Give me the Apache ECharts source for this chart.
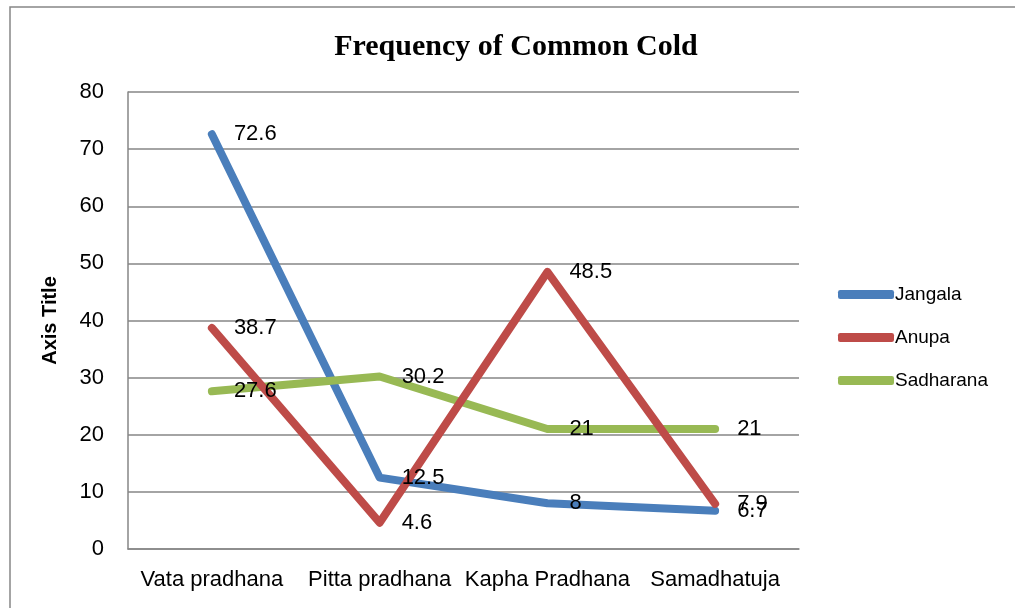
<!DOCTYPE html>
<html>
<head>
<meta charset="utf-8">
<script src="https://cdn.jsdelivr.net/npm/echarts@6/dist/echarts.min.js"></script>
<style>
  html, body { margin: 0; padding: 0; background: #fff; }
  #chart { width: 1015px; height: 608px; }
</style>
</head>
<body>
<div id="chart"></div>
<script>
// Constitution types (Prakriti) on the x axis
const categories = ['Vata pradhana', 'Pitta pradhana', 'Kapha Pradhana', 'Samadhatuja'];

// Frequency values per desha group
const jangala = [72.6, 12.5, 8, 6.7];
const anupa = [38.7, 4.6, 48.5, 7.9];
const sadharana = [27.6, 30.2, 21, 21];

const seriesNames = ['Jangala', 'Anupa', 'Sadharana'];
const seriesColors = ['#4A7EBB', '#BE4B48', '#98B954'];

const labelFont = 'Liberation Sans, Arial, sans-serif';

function lineSeries(name, data, color) {
  return {
    name: name,
    type: 'line',
    data: data,
    z: 2,
    symbol: 'circle',
    symbolSize: 0,
    showSymbol: true,
    smooth: false,
    lineStyle: { color: color, width: 8, cap: 'round', join: 'round' },
    itemStyle: { color: color },
    label: {
      show: true,
      position: 'right',
      distance: 22,
      color: '#000',
      fontSize: 22,
      fontFamily: labelFont
    },
    labelLayout: { hideOverlap: false },
    emphasis: { disabled: true }
  };
}

const chart = echarts.init(document.getElementById('chart'), null, { renderer: 'canvas' });

chart.setOption({
  animation: false,
  backgroundColor: '#fff',
  title: {
    text: 'Frequency of Common Cold',
    left: 511,
    textAlign: 'center',
    top: 27,
    textStyle: {
      fontFamily: 'Liberation Serif, Times New Roman, serif',
      fontWeight: 'bold',
      fontSize: 30,
      color: '#000'
    }
  },
  graphic: [{
    type: 'rect',
    shape: { x: 10, y: 7, width: 1100, height: 700 },
    style: { fill: 'none', stroke: '#868686', lineWidth: 1.5 },
    silent: true
  }],
  legend: {
    orient: 'vertical',
    left: 833,
    top: 280,
    itemGap: 24,
    itemWidth: 56,
    itemHeight: 9,
    icon: 'roundRect',
    data: seriesNames,
    textStyle: { fontFamily: labelFont, fontSize: 19, color: '#000', padding: [0, 0, 0, -4] }
  },
  grid: { left: 128, right: 216, top: 92, bottom: 59 },
  xAxis: {
    type: 'category',
    data: categories,
    boundaryGap: true,
    axisLine: { lineStyle: { color: '#868686', width: 1.5 } },
    axisTick: { show: false },
    axisLabel: { color: '#000', fontSize: 22, fontFamily: labelFont, margin: 20, interval: 0 }
  },
  yAxis: {
    type: 'value',
    min: 0,
    max: 80,
    interval: 10,
    name: 'Axis Title',
    nameLocation: 'middle',
    nameGap: 68,
    nameRotate: 90,
    nameTextStyle: { fontFamily: labelFont, fontWeight: 'bold', fontSize: 20, color: '#000' },
    axisLine: { show: true, lineStyle: { color: '#868686', width: 1.5 } },
    axisTick: { show: false },
    splitLine: { lineStyle: { color: '#868686', width: 1.5 } },
    axisLabel: { color: '#000', fontSize: 22, fontFamily: labelFont, margin: 24 }
  },
  // Anupa is drawn last so its line sits over the other two
  series: [
    lineSeries(seriesNames[0], jangala, seriesColors[0]),
    lineSeries(seriesNames[2], sadharana, seriesColors[2]),
    lineSeries(seriesNames[1], anupa, seriesColors[1])
  ]
});
</script>
</body>
</html>
